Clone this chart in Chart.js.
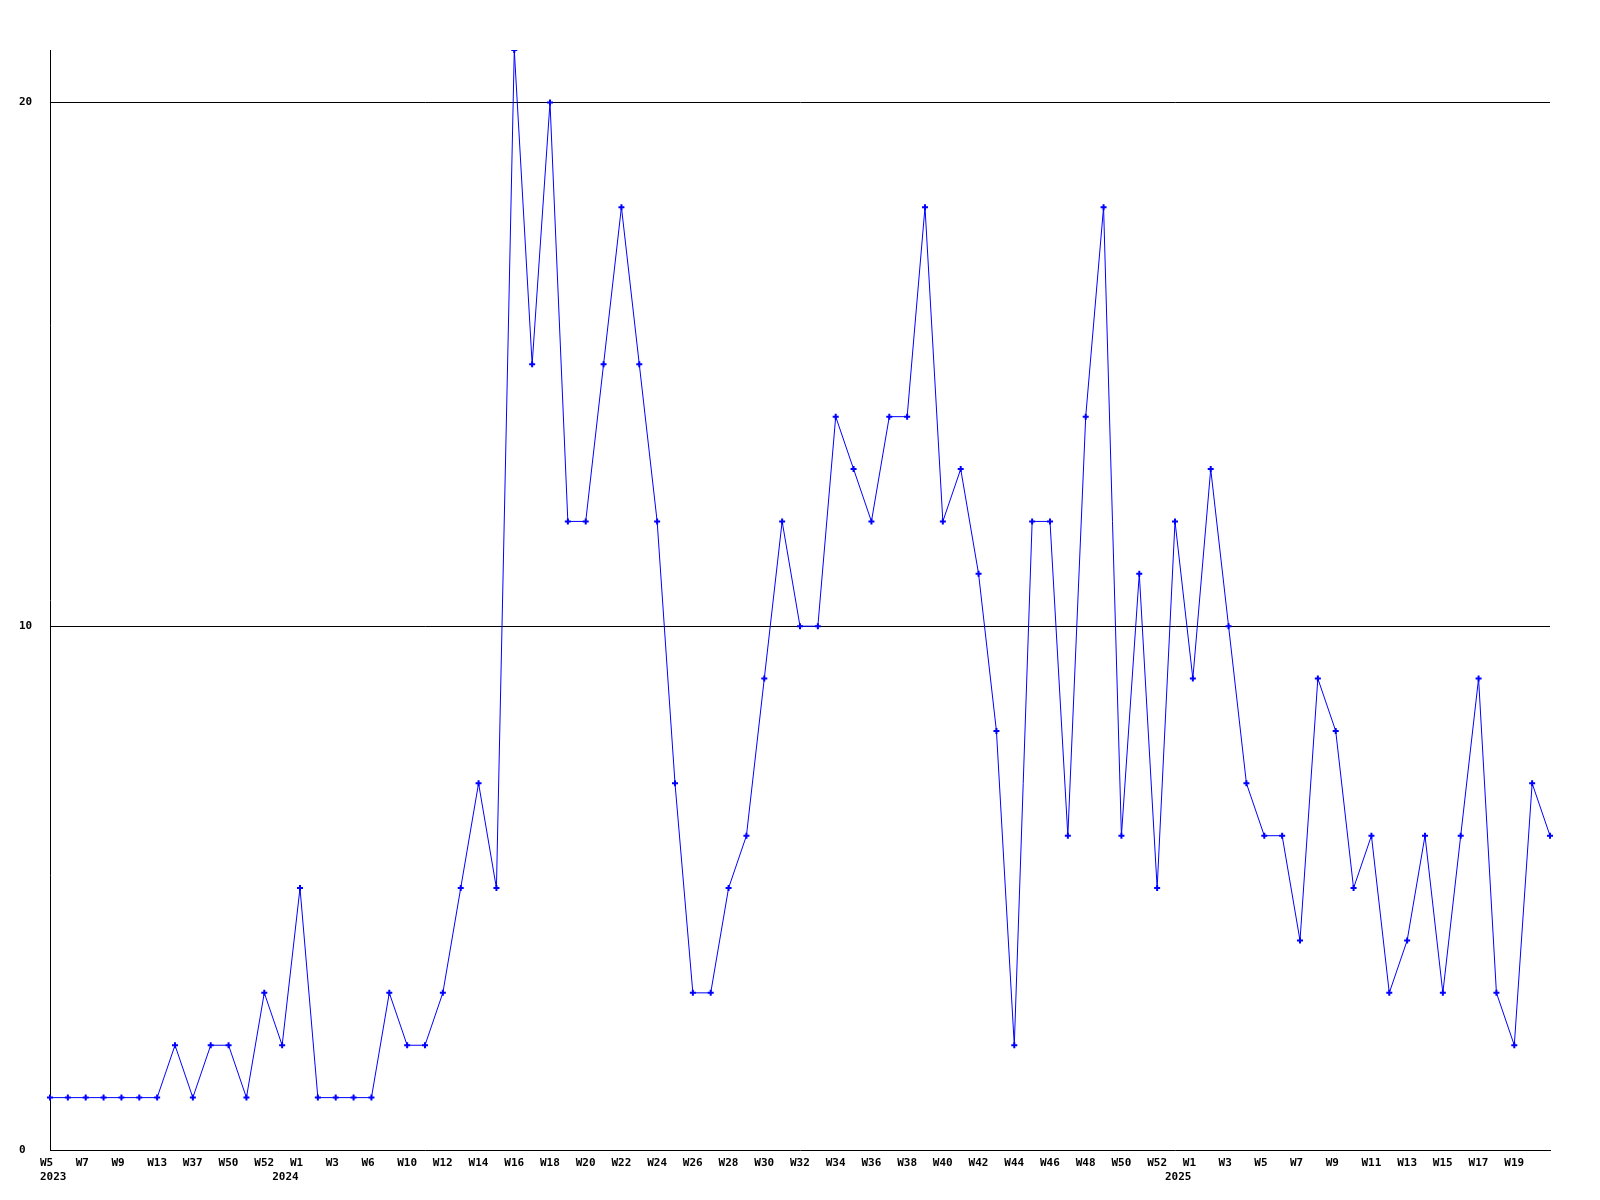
<!DOCTYPE html>
<html>
<head>
<meta charset="utf-8">
<script src="https://cdn.jsdelivr.net/npm/chart.js@4/dist/chart.umd.min.js"></script>
<style>
  html, body { margin: 0; padding: 0; background: #ffffff; }
  #wrap { width: 1600px; height: 1200px; }
</style>
</head>
<body>
<div id="wrap"><canvas id="c" width="1600" height="1200"></canvas></div>
<script>
// Week labels (Sunday-based week numbers), one per data point
const weeks = [
  // 2023
  'W5','W6','W7','W8','W9','W11','W13','W30','W37','W45','W50','W51','W52',
  // 2024
  'W0','W1','W2','W3','W5','W6','W8',
  'W10','W11','W12','W13','W14','W15','W16','W17','W18','W19','W20','W21','W22','W23','W24',
  'W25','W26','W27','W28','W29','W30','W31','W32','W33','W34','W35','W36','W37','W38','W39',
  'W40','W41','W42','W43','W44','W45','W46','W47','W48','W49','W50','W51','W52',
  // 2025
  'W0','W1','W2','W3','W4','W5','W6','W7','W8','W9','W10','W11','W12','W13','W14','W15',
  'W16','W17','W18','W19','W20','W21'
];
const yearLabels = ['2023', '2024', '2025'];
const yearStartIndex = [0, 13, 63];

const values = [
  1,1,1,1,1,1,1,2,1,2,2,1,3,
  2,5,1,1,1,1,3,
  2,2,3,5,7,5,21,15,20,12,12,15,18,15,12,
  7,3,3,5,6,9,12,10,10,14,13,12,14,14,18,
  12,13,11,8,2,12,12,6,14,18,6,11,5,
  12,9,13,10,7,6,6,4,9,8,5,6,3,4,6,3,
  6,9,3,2,7,6
];

const yMin = 0;
const yMax = 21;
const yStep = 10;

const tickFont = { family: "'DejaVu Sans Mono', 'Liberation Mono', monospace", size: 11, weight: 'bold', lineHeight: 1.27 };

new Chart(document.getElementById('c'), {
  type: 'line',
  data: {
    labels: weeks,
    datasets: [{
      data: values,
      borderColor: '#0000ff',
      backgroundColor: '#0000ff',
      borderWidth: 1,
      tension: 0,
      fill: false,
      pointStyle: 'cross',
      pointRadius: 3,
      pointBorderWidth: 2,
      pointBorderColor: '#0000ff',
      pointHoverRadius: 3
    }]
  },
  options: {
    responsive: false,
    animation: false,
    devicePixelRatio: 1,
    layout: { padding: { left: 19, top: 50, right: 50, bottom: 0 } },
    plugins: { legend: { display: false }, tooltip: { enabled: false } },
    scales: {
      x: {
        type: 'category',
        offset: false,
        grid: { display: false, drawTicks: false },
        border: { display: true, color: '#000000', width: 1 },
        ticks: {
          autoSkip: false,
          maxRotation: 0,
          minRotation: 0,
          align: 'start',
          labelOffset: -10,
          padding: 6,
          color: '#000000',
          font: tickFont,
          callback: function (val, idx) {
            const wk = (idx % 2 === 0 && idx < weeks.length - 1) ? weeks[idx] : '';
            const yi = yearStartIndex.indexOf(idx);
            return yi >= 0 ? [wk, yearLabels[yi]] : wk;
          }
        },
        afterFit: function (axis) { axis.height = 50; }
      },
      y: {
        min: yMin,
        max: yMax,
        grid: {
          drawTicks: false,
          color: function (ctx) { return ctx.tick && ctx.tick.value === 0 ? 'rgba(0,0,0,0)' : '#000000'; },
          lineWidth: 1
        },
        border: { display: true, color: '#000000', width: 1 },
        ticks: {
          stepSize: yStep,
          crossAlign: 'far',
          padding: 17,
          color: '#000000',
          font: tickFont
        },
        afterBuildTicks: function (axis) {
          axis.ticks = axis.ticks.filter(function (t) { return t.value % yStep === 0; });
        },
        afterFit: function (axis) { axis.width = 31; }
      }
    }
  }
});
</script>
</body>
</html>
